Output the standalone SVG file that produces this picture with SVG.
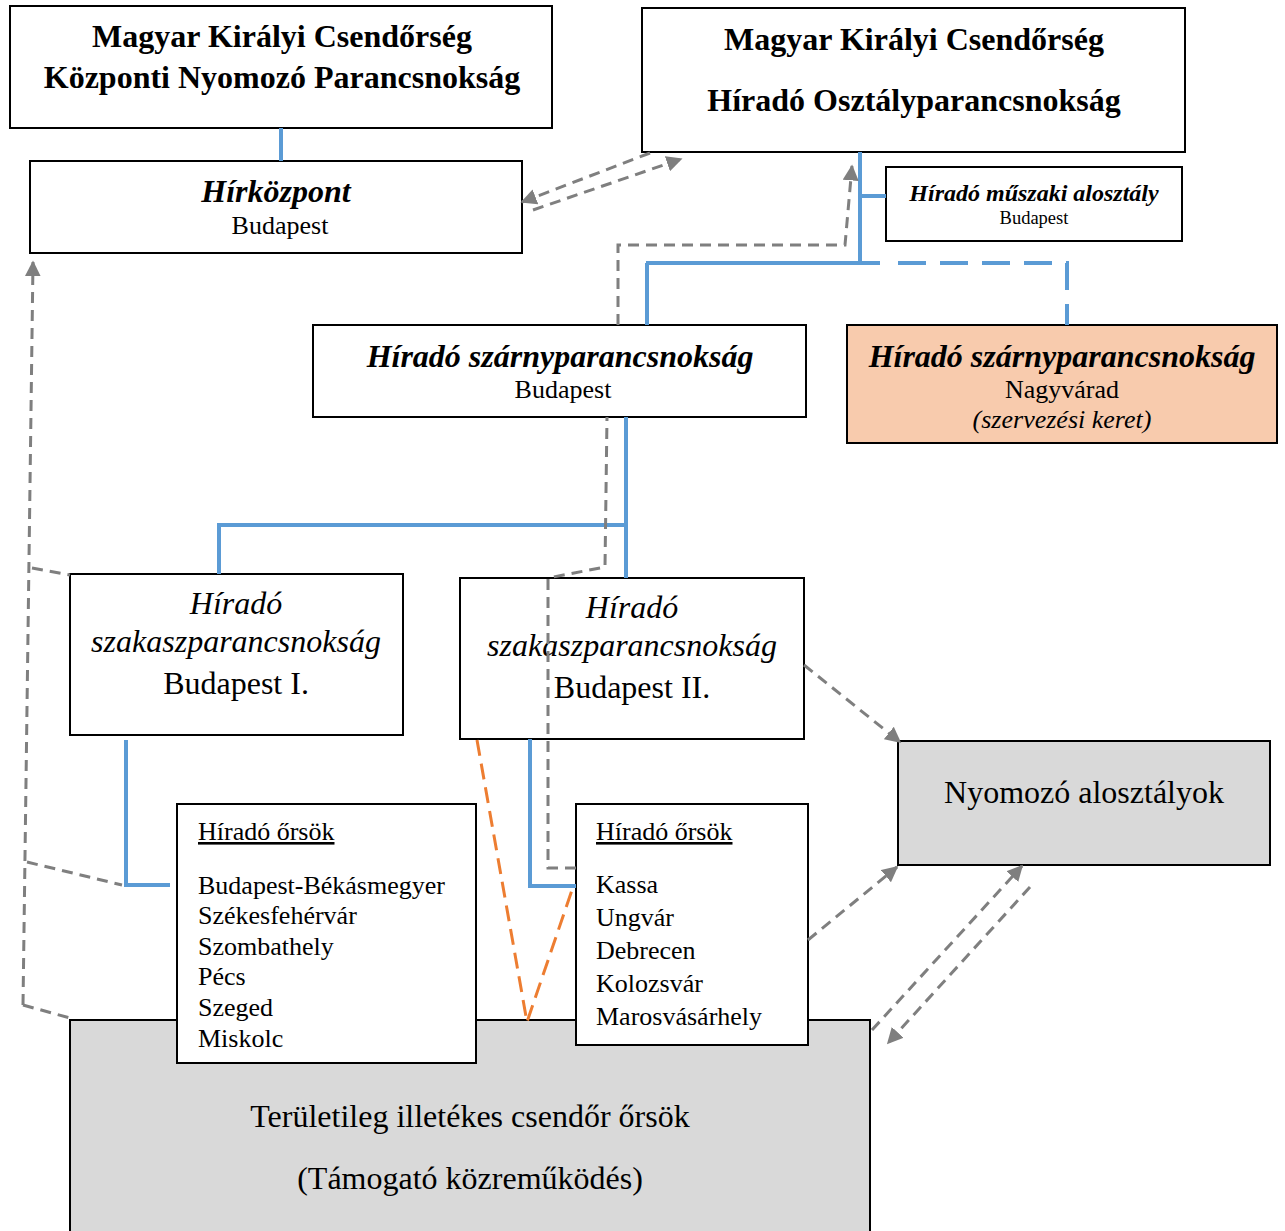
<svg xmlns="http://www.w3.org/2000/svg" width="1285" height="1231" viewBox="0 0 1285 1231">
<style>
.box{fill:#fff;stroke:#000;stroke-width:2}
.gray{fill:#d9d9d9;stroke:#000;stroke-width:2}
.peach{fill:#f8cbad;stroke:#000;stroke-width:2}
text{font-family:"Liberation Serif","Times New Roman",serif;fill:#000}
.c{text-anchor:middle}
.b{font-weight:bold}
.i{font-style:italic}
.f32{font-size:32px}
.f26{font-size:26px}
.blue{fill:none;stroke:#5b9bd5;stroke-width:4}
.blued{fill:none;stroke:#5b9bd5;stroke-width:4;stroke-dasharray:28 14}
.gd{fill:none;stroke:#7f7f7f;stroke-width:3;stroke-dasharray:11 7}
.or{fill:none;stroke:#ed7d31;stroke-width:3;stroke-dasharray:16 8}
</style>
<defs>
<marker id="ah" viewBox="0 0 10 10" refX="9" refY="5" markerWidth="16" markerHeight="16" markerUnits="userSpaceOnUse" orient="auto">
<path d="M0,0 L10,5 L0,10 z" fill="#7f7f7f"/>
</marker>
</defs>
<rect width="1285" height="1231" fill="#fff"/>
<g id="terulet">
<rect class="gray" x="70" y="1020" width="800" height="230"/>
<text class="c f32" x="470" y="1127">Területileg illetékes csendőr őrsök</text>
<text class="c f32" x="470" y="1189">(Támogató közreműködés)</text>
</g>
<g id="kozponti">
<rect class="box" x="10" y="6" width="542" height="122"/>
<text class="c b f32" x="282" y="47">Magyar Királyi Csendőrség</text>
<text class="c b f32" x="282" y="88">Központi Nyomozó Parancsnokság</text>
</g>
<g id="hirado-osztaly">
<rect class="box" x="642" y="8" width="543" height="144"/>
<text class="c b f32" x="914" y="50">Magyar Királyi Csendőrség</text>
<text class="c b f32" x="914" y="111">Híradó Osztályparancsnokság</text>
</g>
<g id="hirkozpont">
<rect class="box" x="30" y="161" width="492" height="92"/>
<text class="c b i f32" x="276" y="202">Hírközpont</text>
<text class="c f26" x="280" y="234">Budapest</text>
</g>
<g id="muszaki">
<rect class="box" x="886" y="167" width="296" height="74"/>
<text class="c b i" font-size="24" x="1034" y="201">Híradó műszaki alosztály</text>
<text class="c" font-size="18.5" x="1034" y="224">Budapest</text>
</g>
<g id="szarny-bp">
<rect class="box" x="313" y="325" width="493" height="92"/>
<text class="c b i f32" x="560" y="367">Híradó szárnyparancsnokság</text>
<text class="c f26" x="563" y="398">Budapest</text>
</g>
<g id="szarny-nv">
<rect class="peach" x="847" y="325" width="430" height="118"/>
<text class="c b i f32" x="1062" y="367">Híradó szárnyparancsnokság</text>
<text class="c f26" x="1062" y="398">Nagyvárad</text>
<text class="c i f26" x="1062" y="428">(szervezési keret)</text>
</g>
<g id="szakasz-1">
<rect class="box" x="70" y="574" width="333" height="161"/>
<text class="c i f32" x="236" y="614">Híradó</text>
<text class="c i f32" x="236" y="652">szakaszparancsnokság</text>
<text class="c f32" x="236" y="694">Budapest I.</text>
</g>
<g id="szakasz-2">
<rect class="box" x="460" y="578" width="344" height="161"/>
<text class="c i f32" x="632" y="618">Híradó</text>
<text class="c i f32" x="632" y="656">szakaszparancsnokság</text>
<text class="c f32" x="632" y="698">Budapest II.</text>
</g>
<g id="nyomozo">
<rect class="gray" x="898" y="741" width="372" height="124"/>
<text class="c f32" x="1084" y="803">Nyomozó alosztályok</text>
</g>
<g id="orsok-1">
<rect class="box" x="177" y="804" width="299" height="259"/>
<text class="f26" x="198" y="840" text-decoration="underline">Híradó őrsök</text>
<text class="f26" x="198" y="894">Budapest-Békásmegyer</text>
<text class="f26" x="198" y="924">Székesfehérvár</text>
<text class="f26" x="198" y="955">Szombathely</text>
<text class="f26" x="198" y="985">Pécs</text>
<text class="f26" x="198" y="1016">Szeged</text>
<text class="f26" x="198" y="1047">Miskolc</text>
</g>
<g id="orsok-2">
<rect class="box" x="576" y="804" width="232" height="241"/>
<text class="f26" x="596" y="840" text-decoration="underline">Híradó őrsök</text>
<text class="f26" x="596" y="893">Kassa</text>
<text class="f26" x="596" y="926">Ungvár</text>
<text class="f26" x="596" y="959">Debrecen</text>
<text class="f26" x="596" y="992">Kolozsvár</text>
<text class="f26" x="596" y="1025">Marosvásárhely</text>
</g>
<g id="connectors">
<path class="blue" d="M281,128 V161"/>
<path class="blue" d="M860,152 V263"/>
<path class="blue" d="M860,196 H886"/>
<path class="blue" d="M646,263 H880"/>
<path class="blue" d="M647,325 V263"/>
<path class="blued" d="M898,263 H1067 V325"/>
<path class="blue" d="M626,417 V578"/>
<path class="blue" d="M219,574 V525 H626"/>
<path class="blue" d="M126,740 V885 H170"/>
<path class="blue" d="M530,739 V886 H576"/>
<path class="gd" d="M650,153 L522,202" marker-end="url(#ah)"/>
<path class="gd" d="M533,210 L681,159" marker-end="url(#ah)"/>
<path class="gd" d="M618,325 V245 H845 L852,166" marker-end="url(#ah)"/>
<path class="gd" d="M576,868 H548 V578 L605,567 L607,417"/>
<path class="gd" d="M23,1005 L33,262" marker-end="url(#ah)"/>
<path class="gd" d="M32,568 L70,575"/>
<path class="gd" d="M27,862 L122,885"/>
<path class="gd" d="M23,1005 L70,1018"/>
<path class="gd" d="M804,665 L900,742" marker-end="url(#ah)"/>
<path class="gd" d="M808,940 L897,867" marker-end="url(#ah)"/>
<path class="gd" d="M872,1030 L1022,866" marker-end="url(#ah)"/>
<path class="gd" d="M1030,887 L888,1043" marker-end="url(#ah)"/>
<path class="or" d="M477,740 L527,1022 L572,890"/>
</g>
</svg>
